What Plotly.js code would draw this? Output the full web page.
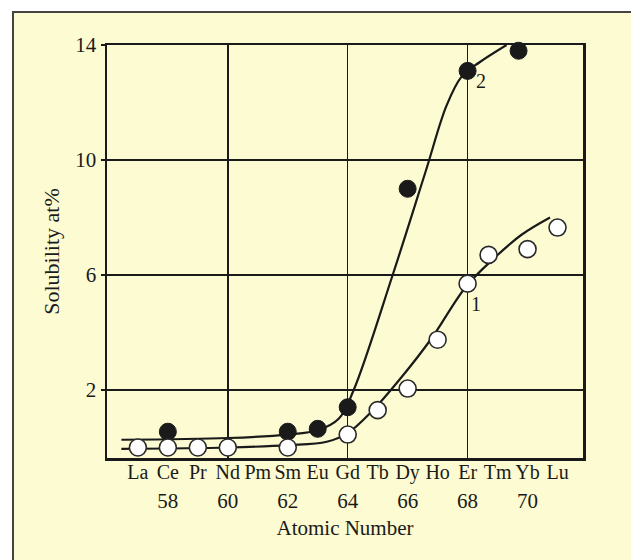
<!DOCTYPE html>
<html>
<head>
<meta charset="utf-8">
<script src="https://cdn.plot.ly/plotly-3.0.1.min.js"></script>
<style>
  html, body { margin: 0; padding: 0; background: #ffffff; }
  #frame { position: absolute; left: 12px; top: 11px; width: 640px; height: 560px;
           background: #fdfbd2; border-left: 2px solid #444; border-top: 2px solid #444; }
  #chart { position: absolute; left: 0; top: 0; width: 631px; height: 560px; }
</style>
</head>
<body>
<div id="frame"></div>
<div id="chart"></div>
<script>
// Element symbols and atomic numbers (x axis)
const atomicNumbers = [57, 58, 59, 60, 61, 62, 63, 64, 65, 66, 67, 68, 69, 70, 71];
const elementSymbols = ["La", "Ce", "Pr", "Nd", "Pm", "Sm", "Eu", "Gd", "Tb", "Dy", "Ho", "Er", "Tm", "Yb", "Lu"];
const numberTicks = [58, 60, 62, 64, 66, 68, 70];

// Curve 1 (open circles) measured points
const openX = [57, 58, 59, 60, 62, 64, 65, 66, 67, 68, 68.7, 70, 71];
const openY = [0.0, 0.0, 0.0, 0.0, 0.0, 0.45, 1.3, 2.05, 3.75, 5.7, 6.7, 6.9, 7.65];

// Curve 2 (filled circles) measured points
const fillX = [58, 62, 63, 64, 66, 68, 69.7];
const fillY = [0.55, 0.55, 0.65, 1.4, 9.0, 13.1, 13.8];

// Hand-drawn fitted curves
const curve1X = [56.45, 60.0, 62.0, 63.3, 64.0, 64.8, 65.8, 66.8, 67.95, 68.9, 69.8, 70.75];
const curve1Y = [-0.05, 0.0, 0.08, 0.2, 0.5, 1.25, 2.45, 3.8, 5.6, 6.6, 7.4, 8.0];

const curve2X = [56.45, 60.0, 62.0, 63.0, 63.7, 64.2, 65.5, 66.6, 67.3, 67.8, 68.4, 69.3];
const curve2Y = [0.27, 0.33, 0.45, 0.6, 1.0, 2.0, 6.0, 9.6, 11.9, 12.9, 13.4, 14.0];

const serif = "Liberation Serif, Times New Roman, serif";
const ink = "#1a1a1a";

const traces = [
  { x: curve1X, y: curve1Y, mode: "lines", line: { color: ink, width: 2.2, shape: "spline", smoothing: 1 },
    hoverinfo: "skip", showlegend: false },
  { x: curve2X, y: curve2Y, mode: "lines", line: { color: ink, width: 2.2, shape: "spline", smoothing: 1 },
    hoverinfo: "skip", showlegend: false },
  { x: fillX, y: fillY, mode: "markers",
    marker: { symbol: "circle", size: 17, color: ink, line: { color: ink, width: 1 } },
    showlegend: false, cliponaxis: false },
  { x: openX, y: openY, mode: "markers",
    marker: { symbol: "circle", size: 17, color: "#ffffff", line: { color: "#2a2a2a", width: 1.6 } },
    showlegend: false, cliponaxis: false },
  // invisible traces to activate the label axes
  { x: atomicNumbers, y: atomicNumbers.map(() => null), xaxis: "x2", mode: "markers", showlegend: false, hoverinfo: "skip" },
  { x: numberTicks, y: numberTicks.map(() => null), xaxis: "x3", mode: "markers", showlegend: false, hoverinfo: "skip" }
];

const xRange = [55.97, 71.85];

const layout = {
  width: 631, height: 560,
  margin: { l: 107, r: 48, t: 45, b: 102 },
  paper_bgcolor: "rgba(0,0,0,0)",
  plot_bgcolor: "rgba(0,0,0,0)",
  font: { family: serif, color: ink, size: 20 },
  xaxis: {
    range: xRange, tickvals: [60, 64, 68], showticklabels: false, ticks: "",
    showgrid: true, gridcolor: ink, gridwidth: 1.5, zeroline: false,
    showline: true, linecolor: ink, linewidth: 2.5, mirror: true
  },
  xaxis2: {
    overlaying: "x", anchor: "y", side: "bottom", range: xRange,
    tickvals: atomicNumbers, ticktext: elementSymbols, ticks: "",
    showgrid: false, zeroline: false, showline: false,
    tickfont: { family: serif, size: 20, color: ink }, ticklabelstandoff: 0
  },
  xaxis3: {
    overlaying: "x", anchor: "y", side: "bottom", range: xRange,
    tickvals: numberTicks, ticktext: numberTicks.map(String), ticks: "",
    showgrid: false, zeroline: false, showline: false,
    tickfont: { family: serif, size: 21, color: ink }, ticklabelstandoff: 28,
    title: { text: "Atomic Number", font: { family: serif, size: 21, color: ink }, standoff: 8 }
  },
  yaxis: {
    range: [-0.365, 14], tickvals: [2, 6, 10, 14], ticktext: ["2", "6", "10", "14"],
    ticks: "outside", ticklen: 4, tickcolor: ink, tickwidth: 1.5,
    showgrid: true, gridcolor: ink, gridwidth: 1.5, zeroline: false,
    showline: true, linecolor: ink, linewidth: 2.5, mirror: true,
    tickfont: { family: serif, size: 21, color: ink },
    title: { text: "Solubility at%", font: { family: serif, size: 22, color: ink }, standoff: 10 }
  },
  annotations: [
    { x: 68.2, y: 12.75, xref: "x", yref: "y", text: "2", showarrow: false, xanchor: "left",
      font: { family: serif, size: 20, color: ink } },
    { x: 68.05, y: 5.0, xref: "x", yref: "y", text: "1", showarrow: false, xanchor: "left",
      font: { family: serif, size: 20, color: ink } }
  ]
};

Plotly.newPlot("chart", traces, layout, { staticPlot: true, displayModeBar: false });
</script>
</body>
</html>
